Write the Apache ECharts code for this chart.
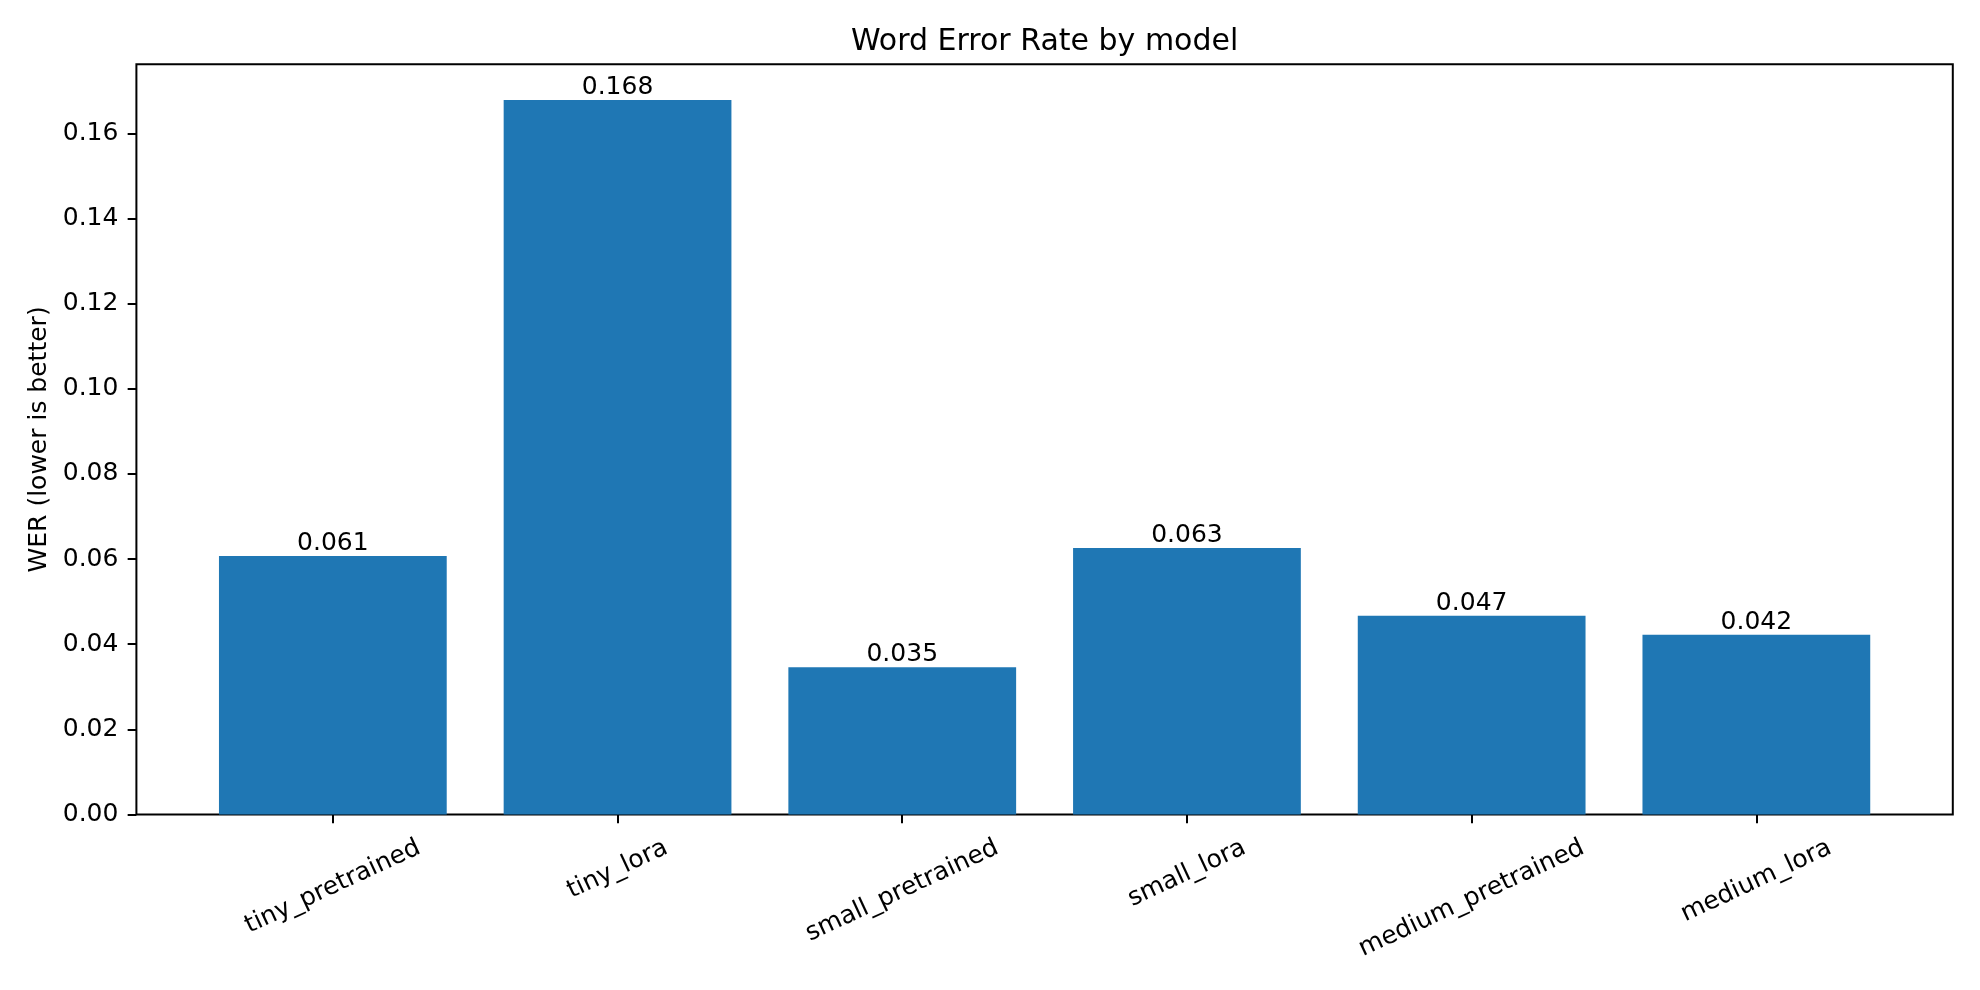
<!DOCTYPE html>
<html>
<head>
<meta charset="utf-8">
<script src="https://cdn.jsdelivr.net/npm/echarts@6/dist/echarts.min.js"></script>
<style>
html, body { margin: 0; padding: 0; background: #fff; }
#chart { width: 1980px; height: 990px; }
</style>
</head>
<body>
<div id="chart"></div>
<script>
var models = ['tiny_pretrained', 'tiny_lora', 'small_pretrained', 'small_lora', 'medium_pretrained', 'medium_lora'];
var wer = [0.0607, 0.1678, 0.0346, 0.0626, 0.0467, 0.0422];
var yTicks = [0, 0.02, 0.04, 0.06, 0.08, 0.10, 0.12, 0.14, 0.16];
var xTicks = [0, 1, 2, 3, 4, 5];

var FONT = 'DejaVu Sans';
var FS = 25;
var LEFT = 136.4, RIGHT = 27.2, TOP = 64.3, BOTTOM = 175.5;
var xMin = -0.69, xMax = 5.69;
var yMax = 0.1762;
var plotW = 1980 - LEFT - RIGHT;
var pxPerUnit = plotW / (xMax - xMin);
var ROT = 25 * Math.PI / 180;
var LH = 29;

// tick labels are centred on their tick in the original, echarts anchors a corner,
// so move each label anchor by half of its rotated width
var ctx = document.createElement('canvas').getContext('2d');
ctx.font = FS + 'px "' + FONT + '"';
var labelPos = models.map(function (m, i) {
    var w = ctx.measureText(m).width;
    var dx = (w * Math.cos(ROT) - LH * Math.sin(ROT)) / 2;
    return i + dx / pxPerUnit;
});

var chart = echarts.init(document.getElementById('chart'));

var option = {
    animation: false,
    title: {
        text: 'Word Error Rate by model',
        left: LEFT + plotW / 2,
        textAlign: 'center',
        top: 27,
        padding: 0,
        textStyle: { fontSize: 30, fontWeight: 'normal', color: '#000', fontFamily: FONT, lineHeight: 30 }
    },
    grid: {
        left: LEFT, right: RIGHT, top: TOP, bottom: BOTTOM,
        show: true,
        borderColor: '#000',
        borderWidth: 2,
        containLabel: false,
        outerBoundsMode: 'none'
    },
    xAxis: {
        type: 'value',
        min: xMin,
        max: xMax,
        axisLine: { show: false, onZero: false },
        splitLine: { show: false },
        axisTick: {
            customValues: xTicks,
            length: 8.75,
            lineStyle: { color: '#000', width: 2 }
        },
        axisLabel: {
            customValues: labelPos,
            rotate: 25,
            align: 'right',
            verticalAlign: 'top',
            margin: 19,
            lineHeight: LH,
            fontSize: FS,
            fontFamily: FONT,
            color: '#000',
            formatter: function (v) { return models[Math.round(v)]; }
        }
    },
    yAxis: {
        type: 'value',
        min: 0,
        max: yMax,
        name: 'WER (lower is better)',
        nameLocation: 'middle',
        nameGap: 82.5,
        nameMoveOverlap: false,
        nameTextStyle: { fontSize: FS, fontFamily: FONT, color: '#000', lineHeight: LH },
        axisLine: { show: false, onZero: false },
        splitLine: { show: false },
        axisTick: {
            customValues: yTicks,
            length: 8.75,
            lineStyle: { color: '#000', width: 2 }
        },
        axisLabel: {
            customValues: yTicks,
            margin: 18,
            fontSize: FS,
            fontFamily: FONT,
            color: '#000',
            formatter: function (v) { return v.toFixed(2); }
        }
    },
    series: [{
        type: 'bar',
        barWidth: 0.8 * pxPerUnit,
        data: models.map(function (m, i) { return [i, wer[i]]; }),
        itemStyle: { color: '#1f77b4' },
        label: {
            show: true,
            position: 'top',
            distance: 0,
            lineHeight: 25,
            fontSize: FS,
            fontFamily: FONT,
            color: '#000',
            formatter: function (p) { return p.value[1].toFixed(3); }
        }
    }]
};
chart.setOption(option);
</script>
</body>
</html>
